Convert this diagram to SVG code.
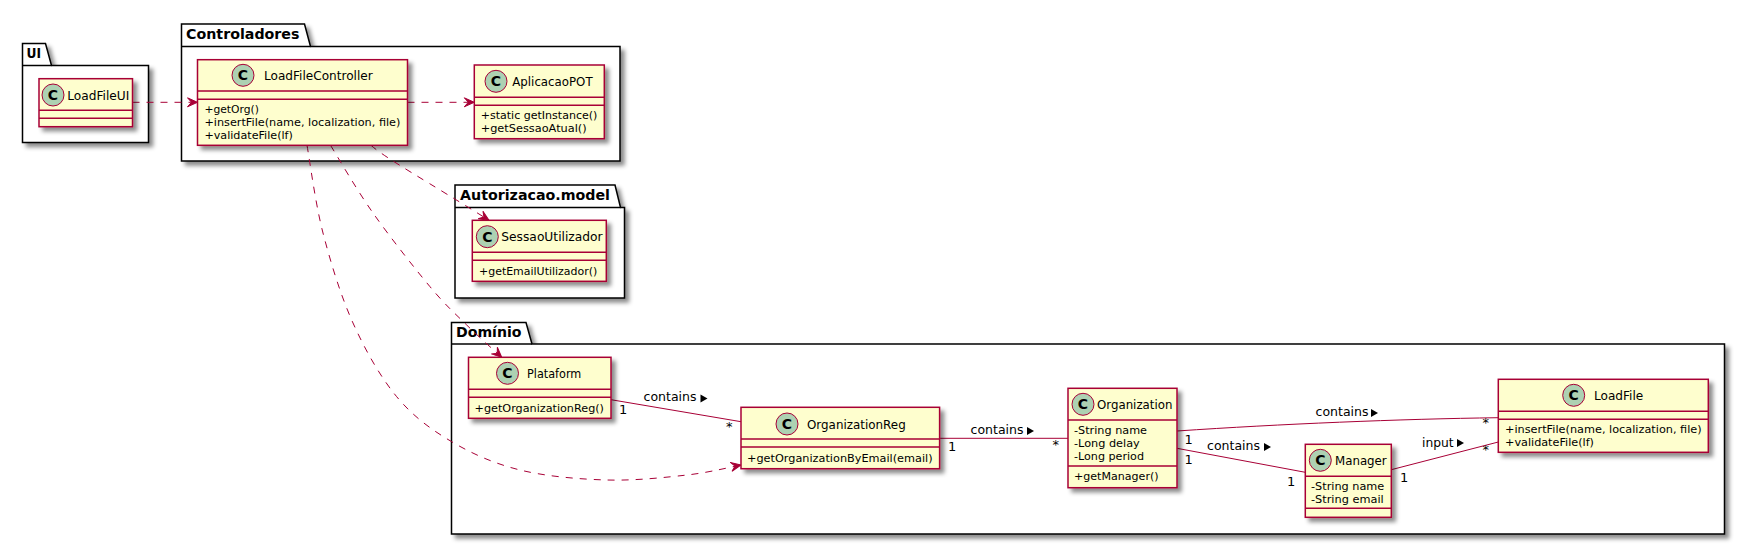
<svg xmlns="http://www.w3.org/2000/svg" width="1745" height="545" viewBox="0 0 1745 545">
<style>
text{font-family:"DejaVu Sans",sans-serif;fill:#000}
.pk{fill:#fff;stroke:#000;stroke-width:1.5;filter:url(#sh)}
.pl{fill:none;stroke:#000;stroke-width:1.5}
.pt{font-size:14px;font-weight:bold}
.cb{fill:#FEFECE;stroke:#A80036;stroke-width:1.5;filter:url(#sh)}
.cl{stroke:#A80036;stroke-width:1.5}
.ci{fill:#ADD1B2;stroke:#A80036;stroke-width:1}
.cc{font-size:14px;font-weight:bold;text-anchor:middle}
.cn{font-size:13px}
.m{font-size:11px}
.e{font-size:13px}
.a{fill:none;stroke:#A80036;stroke-width:1}
.d{stroke-dasharray:7 7;marker-end:url(#ah)}
.t{fill:#000}
</style>
<defs>
<filter id="sh" x="-10%" y="-10%" width="125%" height="130%"><feDropShadow dx="4" dy="4" stdDeviation="2" flood-color="#000" flood-opacity="0.45"/></filter>
<marker id="ah" markerUnits="userSpaceOnUse" markerWidth="12" markerHeight="12" viewBox="-11 -6 12 12" refX="0" refY="0" orient="auto"><path d="M0 0L-10 -4.5L-6 0L-10 4.5Z" fill="#A80036" stroke="#A80036" stroke-width="1"/></marker>
</defs>
<rect width="1745" height="545" fill="#fff"/>
<g id="pkg-UI"><path class="pk" d="M22.5 43.5H45.5L51.5 65.5H148.5V142.5H22.5Z"/><path class="pl" d="M22.5 65.5H51.5"/><text class="pt" x="26.5" y="58" textLength="14.5" lengthAdjust="spacingAndGlyphs">UI</text></g>
<g id="pkg-Controladores"><path class="pk" d="M181.5 24H304.5L310.5 46.5H620V161H181.5Z"/><path class="pl" d="M181.5 46.5H310.5"/><text class="pt" x="186" y="39" textLength="113.5" lengthAdjust="spacingAndGlyphs">Controladores</text></g>
<g id="pkg-Autorizacao"><path class="pk" d="M455 185H615L620.5 207.5H624.5V298H455Z"/><path class="pl" d="M455 207.5H620.5"/><text class="pt" x="460" y="200" textLength="150" lengthAdjust="spacingAndGlyphs">Autorizacao.model</text></g>
<g id="pkg-Dominio"><path class="pk" d="M451.5 322.5H526L532 344H1724.5V534H451.5Z"/><path class="pl" d="M451.5 344H532"/><text class="pt" x="456" y="337" textLength="65.5" lengthAdjust="spacingAndGlyphs">Domínio</text></g>

<g id="connectors">
<path class="a d" d="M132.5 102.3H197.5"/>
<path class="a d" d="M407.5 102.3H474.3"/>
<path class="a d" d="M371 145.3C385 158 430 183 489 220.3"/>
<path class="a d" d="M330.5 145.3C337.6 156.6 356.4 189.4 373 213C389.6 236.6 414.4 268 430 286.7C445.6 305.4 454.7 313.2 466.7 325C478.7 336.8 495.9 352 501.7 357.3"/>
<path class="a d" d="M307 145.3C309.7 159.9 315.3 203.4 323 233C330.7 262.6 340.7 295.7 353 323C365.3 350.3 380.3 376.9 396.7 396.7C413.1 416.5 431.1 429.5 451.7 441.7C472.3 453.9 494.2 463.6 520 470C545.8 476.4 578.9 479.2 606.7 480C634.5 480.8 664.6 477.5 687 475C709.4 472.5 732 466.7 741 465"/>
<path class="a" d="M611 399.7L741 421.7"/>
<path class="a" d="M939.6 438.3H1068"/>
<path class="a" d="M1177 431C1280 424 1400 419 1498.3 417.7"/>
<path class="a" d="M1177 448.3L1305.3 472.3"/>
<path class="a" d="M1391.3 469.7L1498.3 442"/>
<g id="edge-labels">
<text class="e" x="643.5" y="401" textLength="53" lengthAdjust="spacingAndGlyphs">contains</text><polygon class="t" points="700.5,394.5 707.5,398.5 700.5,402.5"/>
<text class="e" x="619" y="414">1</text><text class="e" x="726" y="431">*</text>
<text class="e" x="970.5" y="434" textLength="53" lengthAdjust="spacingAndGlyphs">contains</text><polygon class="t" points="1027,427 1034,431 1027,435"/>
<text class="e" x="948" y="451">1</text><text class="e" x="1052.5" y="449">*</text>
<text class="e" x="1315.5" y="416" textLength="53" lengthAdjust="spacingAndGlyphs">contains</text><polygon class="t" points="1371,409 1378,413 1371,417"/>
<text class="e" x="1184.5" y="444">1</text><text class="e" x="1482.5" y="427">*</text>
<text class="e" x="1207" y="450" textLength="53" lengthAdjust="spacingAndGlyphs">contains</text><polygon class="t" points="1264,443 1271,447 1264,451"/>
<text class="e" x="1184.5" y="463.5">1</text><text class="e" x="1287" y="485.5">1</text>
<text class="e" x="1422" y="446.5" textLength="31.7" lengthAdjust="spacingAndGlyphs">input</text><polygon class="t" points="1457,439 1464,443 1457,447"/>
<text class="e" x="1400" y="481.5">1</text><text class="e" x="1482.5" y="454">*</text>
</g>
</g>

<g id="LoadFileUI"><rect class="cb" x="39" y="78.7" width="93.5" height="48"/><path class="cl" d="M39 110.3H132.5M39 118.3H132.5"/><circle class="ci" cx="53" cy="95" r="11"/><text class="cc" x="53" y="100">C</text><text class="cn" x="67.3" y="100" textLength="62" lengthAdjust="spacingAndGlyphs">LoadFileUI</text></g>
<g id="LoadFileController"><rect class="cb" x="197.5" y="59.7" width="210" height="85.6"/><path class="cl" d="M197.5 91H407.5M197.5 99.3H407.5"/><circle class="ci" cx="243" cy="75.3" r="11"/><text class="cc" x="243" y="80.3">C</text><text class="cn" x="264" y="80" textLength="108.7" lengthAdjust="spacingAndGlyphs">LoadFileController</text><text class="m" x="204.4" y="113" textLength="54.5" lengthAdjust="spacingAndGlyphs">+getOrg()</text><text class="m" x="204.4" y="126" textLength="196" lengthAdjust="spacingAndGlyphs">+insertFile(name, localization, file)</text><text class="m" x="204.4" y="139" textLength="88.5" lengthAdjust="spacingAndGlyphs">+validateFile(lf)</text></g>
<g id="AplicacaoPOT"><rect class="cb" x="474.3" y="65" width="130" height="73.7"/><path class="cl" d="M474.3 97.3H604.3M474.3 105.3H604.3"/><circle class="ci" cx="496" cy="81.3" r="11"/><text class="cc" x="496" y="86.3">C</text><text class="cn" x="512.3" y="85.5" textLength="80.3" lengthAdjust="spacingAndGlyphs">AplicacaoPOT</text><text class="m" x="480.7" y="118.7" textLength="116.7" lengthAdjust="spacingAndGlyphs">+static getInstance()</text><text class="m" x="480.7" y="131.7" textLength="106" lengthAdjust="spacingAndGlyphs">+getSessaoAtual()</text></g>
<g id="SessaoUtilizador"><rect class="cb" x="472.3" y="220.3" width="134" height="61"/><path class="cl" d="M472.3 252.3H606.3M472.3 260.3H606.3"/><circle class="ci" cx="487.3" cy="236.7" r="11"/><text class="cc" x="487.3" y="241.7">C</text><text class="cn" x="501.3" y="240.7" textLength="101.3" lengthAdjust="spacingAndGlyphs">SessaoUtilizador</text><text class="m" x="479" y="274.7" textLength="118.3" lengthAdjust="spacingAndGlyphs">+getEmailUtilizador()</text></g>
<g id="Plataform"><rect class="cb" x="468.5" y="357.3" width="142.5" height="61"/><path class="cl" d="M468.5 389.3H611M468.5 397.3H611"/><circle class="ci" cx="507.5" cy="373.3" r="11"/><text class="cc" x="507.5" y="378.3">C</text><text class="cn" x="527" y="378" textLength="54.3" lengthAdjust="spacingAndGlyphs">Plataform</text><text class="m" x="474.6" y="411.7" textLength="129.4" lengthAdjust="spacingAndGlyphs">+getOrganizationReg()</text></g>
<g id="OrganizationReg"><rect class="cb" x="741" y="407.3" width="198.6" height="61.4"/><path class="cl" d="M741 439H939.6M741 447H939.6"/><circle class="ci" cx="787" cy="424" r="11"/><text class="cc" x="787" y="429">C</text><text class="cn" x="807" y="429" textLength="98.7" lengthAdjust="spacingAndGlyphs">OrganizationReg</text><text class="m" x="747" y="461.7" textLength="185.6" lengthAdjust="spacingAndGlyphs">+getOrganizationByEmail(email)</text></g>
<g id="Organization"><rect class="cb" x="1068" y="388.3" width="109" height="99.4"/><path class="cl" d="M1068 420H1177M1068 466H1177"/><circle class="ci" cx="1083" cy="404.3" r="11"/><text class="cc" x="1083" y="409.3">C</text><text class="cn" x="1097" y="409" textLength="75.4" lengthAdjust="spacingAndGlyphs">Organization</text><text class="m" x="1074" y="434.3" textLength="73" lengthAdjust="spacingAndGlyphs">-String name</text><text class="m" x="1074" y="447.3" textLength="65.8" lengthAdjust="spacingAndGlyphs">-Long delay</text><text class="m" x="1074" y="460" textLength="70" lengthAdjust="spacingAndGlyphs">-Long period</text><text class="m" x="1074" y="480.3" textLength="84.6" lengthAdjust="spacingAndGlyphs">+getManager()</text></g>
<g id="Manager"><rect class="cb" x="1305.3" y="444.3" width="86" height="73"/><path class="cl" d="M1305.3 476.3H1391.3M1305.3 508.3H1391.3"/><circle class="ci" cx="1320.3" cy="460.3" r="11"/><text class="cc" x="1320.3" y="465.3">C</text><text class="cn" x="1335" y="464.5" textLength="51.7" lengthAdjust="spacingAndGlyphs">Manager</text><text class="m" x="1311" y="490" textLength="73.3" lengthAdjust="spacingAndGlyphs">-String name</text><text class="m" x="1311" y="503" textLength="72.7" lengthAdjust="spacingAndGlyphs">-String email</text></g>
<g id="LoadFile"><rect class="cb" x="1498.3" y="379.3" width="210" height="73"/><path class="cl" d="M1498.3 411.3H1708.3M1498.3 419.3H1708.3"/><circle class="ci" cx="1573.7" cy="395.3" r="11"/><text class="cc" x="1573.7" y="400.3">C</text><text class="cn" x="1594" y="400" textLength="49.3" lengthAdjust="spacingAndGlyphs">LoadFile</text><text class="m" x="1505" y="432.7" textLength="196.7" lengthAdjust="spacingAndGlyphs">+insertFile(name, localization, file)</text><text class="m" x="1505" y="446" textLength="89" lengthAdjust="spacingAndGlyphs">+validateFile(lf)</text></g>
</svg>
